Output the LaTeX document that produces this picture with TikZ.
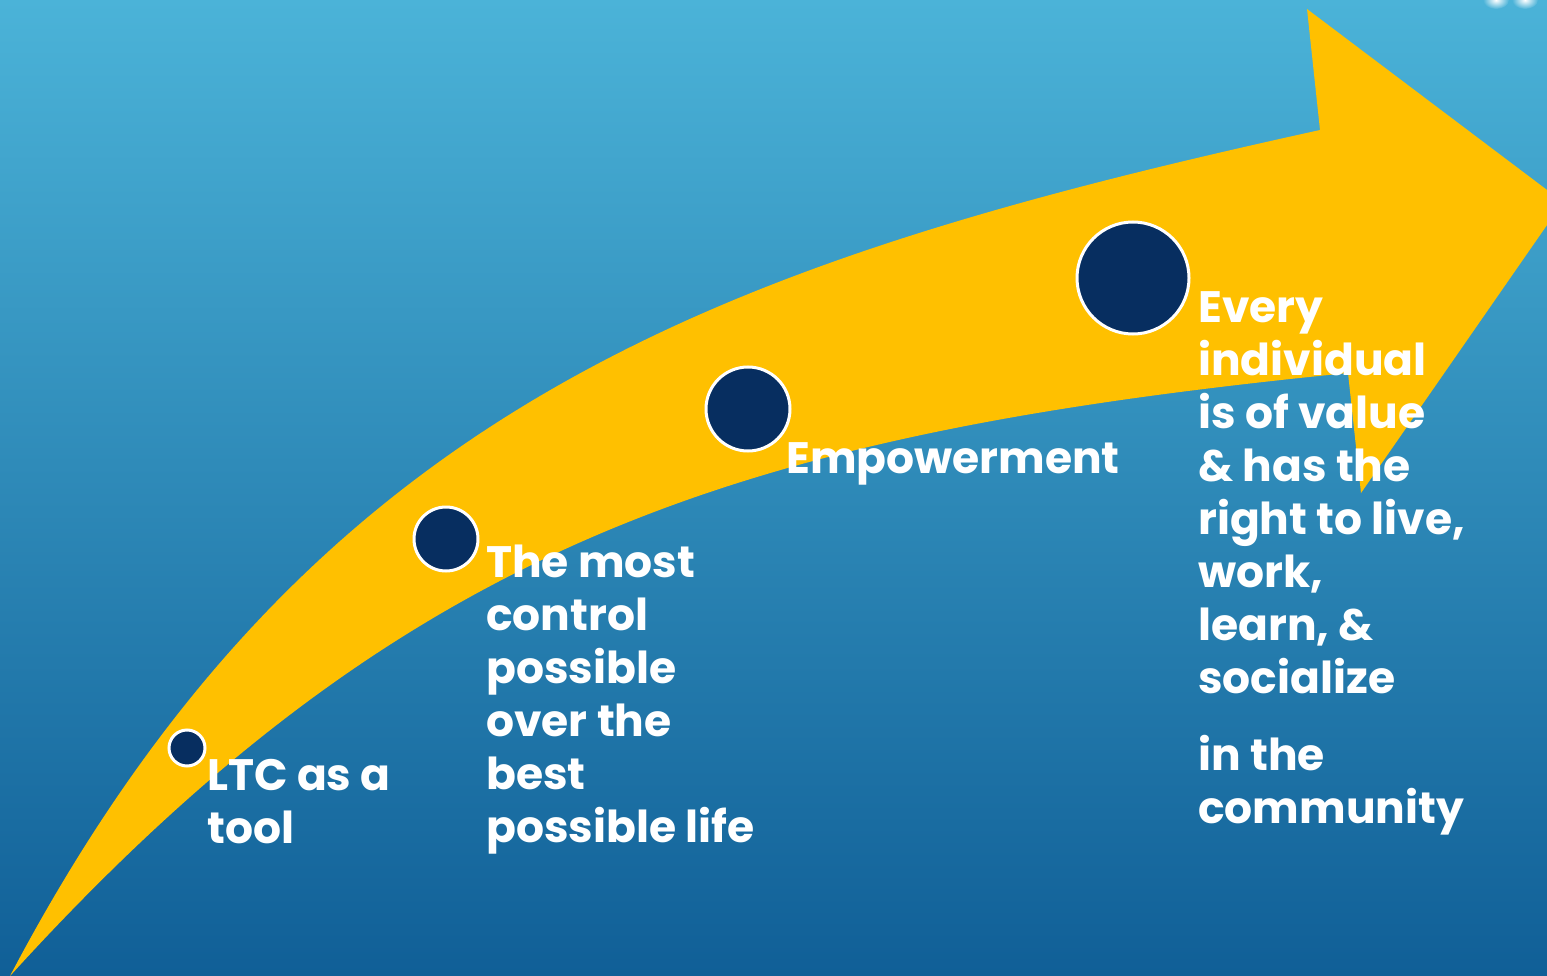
\documentclass[tikz,border=0pt]{standalone}
\usepackage{fontspec}
\setmainfont{Poppins}
\usepackage{tikz}
\usetikzlibrary{positioning}

\definecolor{skytop}{RGB}{75,179,216}
\definecolor{skymid}{RGB}{44,139,188}
\definecolor{skybottom}{RGB}{16,95,151}
\definecolor{arrowgold}{RGB}{255,192,0}
\definecolor{dotnavy}{RGB}{7,46,96}

\begin{document}
\begin{tikzpicture}[x=1pt,y=-1pt,
  stage/.style={circle,fill=dotnavy,draw=white,line width=3pt,inner sep=0pt},
  goal/.style={anchor=north west,inner sep=0pt,align=left,text=white,
    font=\fontsize{44}{53}\selectfont\bfseries}]

\useasboundingbox (0,0) rectangle (1547,976);
\clip (0,0) rectangle (1547,976);

\shade[top color=skytop,middle color=skymid,bottom color=skybottom] (0,0) rectangle (1547,976);
\shade[inner color=white,outer color=skytop] (1496,0) ellipse (13 and 9);
\shade[inner color=white,outer color=skytop] (1525,0) ellipse (13 and 9);

% the rising arrow
\fill[arrowgold] (10,976) .. controls (310,406) and (720,262) .. (1320,130)
  -- (1307,9) -- (1563,202) -- (1361,493) -- (1348,373)
  .. controls (748,433) and (410,536) .. (10,976) -- cycle;

\node[stage,minimum size=36pt] (tool) at (187,748) {};
\node[stage,minimum size=64pt] (control) at (446,539) {};
\node[stage,minimum size=84pt] (power) at (748,409) {};
\node[stage,minimum size=112pt] (value) at (1133,278) {};

\node[goal] (tooltxt) at (207,759) {LTC as a\\tool};
\node[goal] (controltxt) at (486,545) {The most\\control\\possible\\over the\\best\\possible life};
\node[goal] (powertxt) at (786,442) {Empowerment};
\node[goal] (valuetxt) at (1198,291) {Every\\individual\\is of value\\\& has the\\right to live,\\work,\\learn, \&\\socialize\\[24pt]in the\\community};
\end{tikzpicture}
\end{document}
